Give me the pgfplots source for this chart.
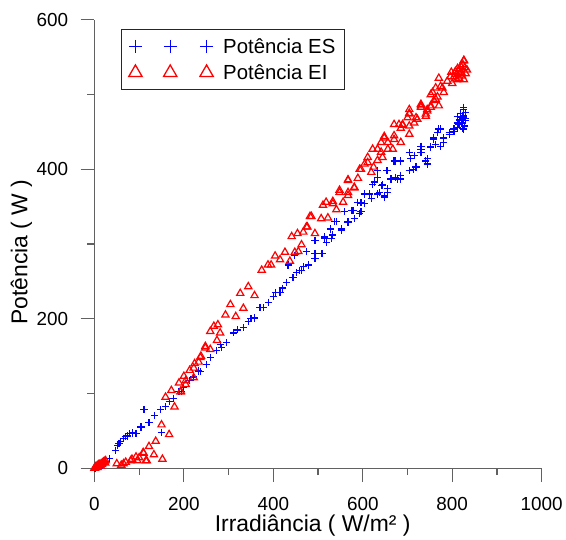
\documentclass[border=0pt]{standalone}
\usepackage{fontspec}
\setmainfont{Liberation Sans}
\usepackage{pgfplots}
\pgfplotsset{compat=1.18}
\usetikzlibrary{calc}

\begin{document}
\begin{tikzpicture}
\begin{axis}[
  scale only axis, width=450pt, height=451pt,
  xmin=0, xmax=1000, ymin=0, ymax=600,
  axis lines*=left,
  axis line style={draw=black!62, line width=1.2pt},
  tick align=outside,
  xtick={0,200,400,600,800,1000}, ytick={0,200,400,600},
  minor tick num=1,
  major tick length=14pt, minor tick length=7pt,
  every tick/.style={draw=black!62, line width=1.2pt},
  /pgf/number format/assume math mode=true,
  /pgf/number format/1000 sep={},
  ticklabel style={font=\fontsize{19}{19}\selectfont},
  xticklabel style={yshift=-12pt},
  yticklabel shift=9pt,
  xlabel={Irradiância ( W/m² )},
  ylabel={Potência ( W )},
  label style={font=\fontsize{23}{23}\selectfont},
  xlabel style={at={(axis description cs:0.488,-0.128)}, anchor=center},
  ylabel style={at={(axis description cs:-0.163,0.482)}, anchor=center},
  legend cell align=left,
  legend style={at={(axis description cs:0,1)}, anchor=north west, xshift=27pt, yshift=-9pt,
    draw=black!85, line width=1pt, font=\fontsize{20.5}{22}\selectfont,
    inner xsep=7pt, inner ysep=7pt, row sep=6pt,
    /tikz/every odd column/.append style={column sep=8pt}},
  clip=false,
]
\addplot[only marks, mark=+, color=blue, mark size=3.6pt, mark options={draw=blue, solid, line width=1.2pt},
  legend image code/.code={\draw[only marks, mark=+, color=blue, mark size=6.5pt, mark options={draw=blue, solid, line width=1.3pt}] plot coordinates {(0pt,0pt) (35pt,0pt) (71.6pt,0pt)};}]
coordinates {
(2,1)(5,2)(8,3)(10,4)(12,5)(15,6)(18,7)(20,8)(6,1)(3,0)(14,4)(22,6)(25,9)(1,0)(9,2)(17,3)
(33,13)(48,24)(52,30)(55,33)(58,36)(65,40)(70,42)(74,43)(78,46)(85,47)(93,46)(104,55)(111,78)(122,61)
(135,70)(148,78)(159,82)(150,48)(167,89)(176,93)(189,103)(200,108)(213,117)(222,122)(237,129)
(250,139)(259,148)(273,157)(281,165)
(195,103)(233,130)(285,161)(296,168)(311,181)(320,185)(333,188)(344,196)(350,200)(358,201)(370,215)(378,215)
(390,222)(400,230)(405,235)(415,235)(420,241)(430,249)(444,255)(452,262)(459,264)(467,270)(479,272)
(433,272)(448,285)(474,290)(493,287)(507,287)(493,281)(493,305)(515,310)(533,312)(518,302)(528,320)
(552,320)(541,330)(567,330)(581,334)(596,343)(574,345)(589,356)(604,354)(615,367)(637,369)(622,380)
(644,378)(656,398)(663,387)
(463,264)(478,272)(509,287)(515,308)(530,307)(537,330)(552,318)(567,329)(559,343)(578,345)(593,341)
(596,355)(604,367)(619,361)(633,367)(648,363)(626,383)(644,380)(656,374)(633,398)(654,398)(674,389)
(685,387)(670,411)(685,411)(704,423)(713,400)(730,427)(741,411)(752,431)(759,440)(767,449)(781,436)
(774,454)(793,447)(804,454)(811,462)(819,469)(826,483)(826,465)
(826,480)(811,471)(822,467)(830,465)(815,460)(826,454)(804,451)(793,449)(781,442)(770,454)(759,442)
(774,431)(763,433)(752,429)(730,431)(730,423)(715,418)(744,414)(744,407)(707,414)(674,411)
(719,403)(704,398)(685,392)(678,387)(633,389)(641,378)(656,369)(648,365)
(818,475)(824,470)(828,458)(820,462)(812,456)(830,476)(826,472)(816,466)(823,455)(829,468)
};
\addlegendentry{Potência ES}
\addplot[only marks, mark=triangle, color=red, mark size=4.2pt, mark options={draw=red, solid, line width=1.2pt},
  legend image code/.code={\draw[only marks, mark=triangle, color=red, mark size=7.8pt, mark options={draw=red, solid, line width=1.3pt}] plot coordinates {(0pt,0pt) (35pt,0pt) (71.6pt,0pt)};}]
coordinates {
(0,0)(2,1)(4,2)(6,3)(8,4)(10,5)(12,5)(15,6)(18,7)(20,8)(22,9)(25,10)(3,2)(7,1)(14,3)(17,5)(24,7)(1,0)
(50,6)(60,4)(65,6)(70,8)(81,10)(84,12)(93,15)(96,10)(100,14)(109,21)(110,20)(115,10)(117,10)(122,29)
(133,18)(137,36)(152,12)(150,58)(167,45)(179,82)(159,95)(172,104)(193,102)(189,114)(204,112)(200,123)
(213,131)(222,121)(224,140)(233,142)(238,150)(248,163)(259,159)(259,183)(274,171)(281,181)
(193,103)(204,117)(222,134)(237,148)(248,161)(267,190)(276,192)(293,205)(304,219)(316,203)(333,214)
(326,234)(344,243)(358,231)(374,265)(388,272)(395,272)(404,284)(415,279)(426,289)(437,277)(448,289)
(456,290)(463,299)(441,310)(454,314)(474,323)(493,314)(482,337)(507,334)(522,335)(511,352)(533,354)
(541,346)(548,369)(567,369)(556,356)(567,385)(589,388)(596,400)(611,409)(633,412)(581,375)(619,396)
(467,316)(476,323)(485,337)(518,356)(533,357)(548,372)(567,365)(567,386)(581,376)(593,400)(604,407)
(611,416)(622,427)(624,403)(641,423)(648,444)(656,436)(670,445)(685,436)(670,460)(689,459)(704,475)
(719,469)(730,485)(741,474)(752,483)(759,492)
(826,545)(819,538)(807,531)(815,522)(826,520)(796,524)(789,518)(770,522)(774,511)(763,509)(781,503)
(752,500)(763,494)(770,485)(752,485)(730,483)(744,478)(704,480)(700,469)(689,460)(715,462)(704,447)
(833,533)(811,527)(826,546)(815,533)(804,524)(778,509)(756,503)(767,497)(730,487)(744,480)
(741,471)(704,474)(722,467)(704,458)(681,460)(685,455)(648,442)(641,436)(670,440)(656,427)(667,427)
(633,427)(644,416)
(820,530)(824,540)(828,536)(816,528)(810,520)(800,515)(830,528)(822,525)(812,535)(798,530)
};
\addlegendentry{Potência EI}
\coordinate (BL) at (rel axis cs:0,0);
\coordinate (TR) at (rel axis cs:1,1);
\end{axis}
\useasboundingbox ($(BL)+(-95pt,-67pt)$) rectangle ($(TR)+(21pt,20pt)$);
\end{tikzpicture}
\end{document}
